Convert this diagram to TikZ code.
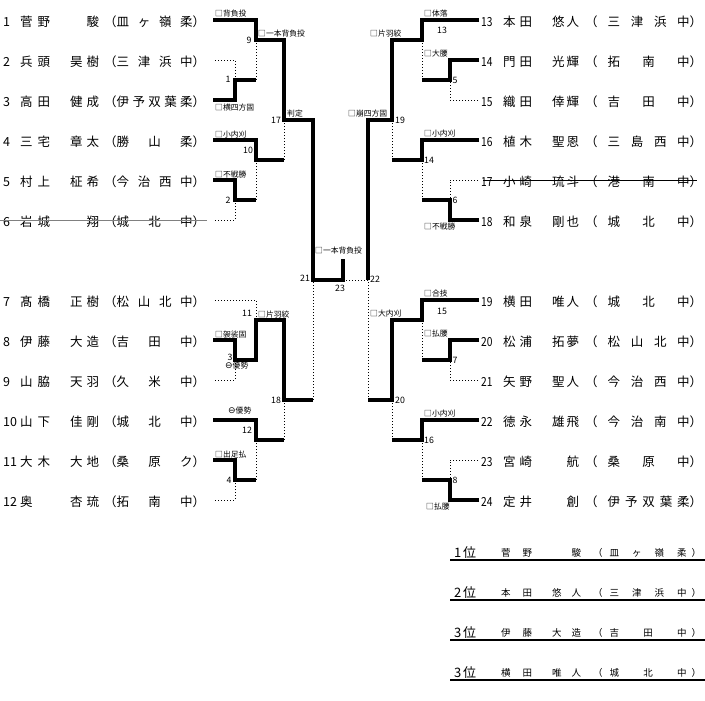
\documentclass[tikz,border=0pt]{standalone}
\usepackage{fontspec}
\usepackage{graphicx}
\setmainfont{Noto Sans CJK JP}
\newfontfamily\dvsans{DejaVu Sans}
\tikzset{
  win/.style={line width=3.2pt, line join=miter, line cap=butt},
  lose/.style={line width=0.9pt, dash pattern=on 1.3pt off 1.7pt},
  prow/.style={inner sep=0pt, anchor=base west, font=\fontsize{12.5}{12.5}\selectfont},
  brow/.style={inner sep=0pt, anchor=base west, font=\fontsize{9.5}{9.5}\selectfont},
  rankt/.style={inner sep=0pt, anchor=base west, font=\fontsize{13}{13}\selectfont},
  tech/.style={inner sep=0pt, anchor=west, font=\fontsize{7.8}{7.8}\selectfont},
  mnum/.style={inner sep=0pt, font=\fontsize{8.8}{8.8}\selectfont},
  strike/.style={line width=1pt},
  rule/.style={line width=1.2pt}
}
\newcommand\Lrow[6]{\node[prow] (#1) at (3,#2+6.3) {\makebox[17pt][l]{#3}\makebox[30pt][s]{#4}\hspace{20pt}\makebox[29pt][s]{#5}\hspace{5pt}（\makebox[76pt][s]{#6}）};}
\newcommand\Rrow[6]{\node[prow] (#1) at (481,#2+6.3) {\makebox[22pt][l]{\scalebox{.82}[1]{#3}}\makebox[29pt][s]{#4}\hspace{20pt}\makebox[27pt][s]{#5}\hspace{6pt}（\hspace{10pt}\makebox[82pt][s]{#6}）};}
\newcommand\Brow[6]{\node[rankt] (#1r) at (454,#2-3) {\makebox[9pt][l]{#3}位};
  \node[brow] (#1) at (501,#2-4) {\makebox[31pt][s]{#4}\hspace{20pt}\makebox[29pt][s]{#5}\hspace{12pt}（\hspace{7pt}\makebox[77pt][s]{#6}\hspace{5pt}）};
  \coordinate (#1a) at (450,#2); \coordinate (#1b) at (705,#2);
  \draw[rule] (#1a) -- (#1b);}
\begin{document}
\begin{tikzpicture}[x=1pt,y=-1pt]
\useasboundingbox (0,0) rectangle (705,701);
% ---------- player rows ----------
\Lrow{p1}{20}{1}{菅\hfill 野}{\hfill 駿}{皿\hfill ヶ\hfill 嶺\hfill 柔}
\Lrow{p2}{60}{2}{兵\hfill 頭}{昊\hfill 樹}{三\hfill 津\hfill 浜\hfill 中}
\Lrow{p3}{100}{3}{高\hfill 田}{健\hfill 成}{伊\hfill 予\hfill 双\hfill 葉\hfill 柔}
\Lrow{p4}{140}{4}{三\hfill 宅}{章\hfill 太}{勝\hfill 山\hfill 柔}
\Lrow{p5}{180}{5}{村\hfill 上}{柾\hfill 希}{今\hfill 治\hfill 西\hfill 中}
\Lrow{p6}{220}{6}{岩\hfill 城}{\hfill 翔}{城\hfill 北\hfill 中}
\Lrow{p7}{300}{7}{髙\hfill 橋}{正\hfill 樹}{松\hfill 山\hfill 北\hfill 中}
\Lrow{p8}{340}{8}{伊\hfill 藤}{大\hfill 造}{吉\hfill 田\hfill 中}
\Lrow{p9}{380}{9}{山\hfill 脇}{天\hfill 羽}{久\hfill 米\hfill 中}
\Lrow{p10}{420}{10}{山\hfill 下}{佳\hfill 剛}{城\hfill 北\hfill 中}
\Lrow{p11}{460}{11}{大\hfill 木}{大\hfill 地}{桑\hfill 原\hfill ク}
\Lrow{p12}{500}{12}{奥\hfill}{杏\hfill 琉}{拓\hfill 南\hfill 中}
\Rrow{p13}{20}{13}{本\hfill 田}{悠\hfill 人}{三\hfill 津\hfill 浜\hfill 中}
\Rrow{p14}{60}{14}{門\hfill 田}{光\hfill 輝}{拓\hfill 南\hfill 中}
\Rrow{p15}{100}{15}{織\hfill 田}{倖\hfill 輝}{吉\hfill 田\hfill 中}
\Rrow{p16}{140}{16}{植\hfill 木}{聖\hfill 恩}{三\hfill 島\hfill 西\hfill 中}
\Rrow{p17}{180}{17}{小\hfill 崎}{琉\hfill 斗}{港\hfill 南\hfill 中}
\Rrow{p18}{220}{18}{和\hfill 泉}{剛\hfill 也}{城\hfill 北\hfill 中}
\Rrow{p19}{300}{19}{横\hfill 田}{唯\hfill 人}{城\hfill 北\hfill 中}
\Rrow{p20}{340}{20}{松\hfill 浦}{拓\hfill 夢}{松\hfill 山\hfill 北\hfill 中}
\Rrow{p21}{380}{21}{矢\hfill 野}{聖\hfill 人}{今\hfill 治\hfill 西\hfill 中}
\Rrow{p22}{420}{22}{徳\hfill 永}{雄\hfill 飛}{今\hfill 治\hfill 南\hfill 中}
\Rrow{p23}{460}{23}{宮\hfill 崎}{\hfill 航}{桑\hfill 原\hfill 中}
\Rrow{p24}{500}{24}{定\hfill 井}{\hfill 創}{伊\hfill 予\hfill 双\hfill 葉\hfill 柔}
% strike-outs (withdrawn)
\coordinate (s6a) at (0,220); \coordinate (s6b) at (207,220);
\draw[strike, gray] (s6a) -- (s6b);
\coordinate (s17a) at (483,180); \coordinate (s17b) at (697,180);
\draw[strike] (s17a) -- (s17b);
% ---------- line starts ----------
\foreach \n/\y in {1/20,3/100,4/140,5/180,8/340,10/420,11/460} {\coordinate (a\n) at (213,\y);}
\foreach \n/\y in {2/60,6/220,7/300,9/380,12/500} {\coordinate (b\n) at (215,\y);}
\foreach \n/\y in {13/20,14/60,16/140,18/220,19/300,20/340,22/420,24/500} {\coordinate (a\n) at (479,\y);}
\foreach \n/\y in {15/100,17/180,21/380,23/460} {\coordinate (b\n) at (478,\y);}
% ---------- match junctions ----------
\coordinate (m1) at (235,80);   \coordinate (m2) at (235,200);
\coordinate (m3) at (235,360);  \coordinate (m4) at (235,480);
\coordinate (m9) at (256,40);   \coordinate (m10) at (256,160);
\coordinate (m11) at (256,320); \coordinate (m12) at (256,440);
\coordinate (m17) at (284,120); \coordinate (m18) at (284,400);
\coordinate (m21) at (313,280); \coordinate (m23) at (343,280);
\coordinate (w23) at (343,259);
\coordinate (m5) at (450,80);   \coordinate (m6) at (450,200);
\coordinate (m7) at (450,360);  \coordinate (m8) at (450,480);
\coordinate (m13) at (422,40);  \coordinate (m14) at (422,160);
\coordinate (m15) at (422,320); \coordinate (m16) at (422,440);
\coordinate (m19) at (392,120); \coordinate (m20) at (392,400);
\coordinate (m22) at (368,280);
% ---------- left bracket ----------
\draw[win] (a1) -| (m9) -| (m17) -| (m21) -- (m23) -- (w23);
\draw[lose] (b2) -| (m1);
\draw[win] (a3) -| (m1) -- (m9 |- m1);
\draw[lose] (m9 |- m1) -- (m9);
\draw[win] (a4) -| (m10) -- (m17 |- m10);
\draw[lose] (m17 |- m10) -- (m17);
\draw[win] (a5) -| (m2) -- (m10 |- m2);
\draw[lose] (m10 |- m2) -- (m10);
\draw[lose] (b6) -| (m2);
\draw[lose] (b7) -| (m11);
\draw[win] (a8) -| (m3) -| (m11) -| (m18) -- (m21 |- m18);
\draw[lose] (m21 |- m18) -- (m21);
\draw[lose] (b9) -| (m3);
\draw[win] (a10) -| (m12) -- (m18 |- m12);
\draw[lose] (m18 |- m12) -- (m18);
\draw[win] (a11) -| (m4) -- (m12 |- m4);
\draw[lose] (m12 |- m4) -- (m12);
\draw[lose] (b12) -| (m4);
% ---------- final ----------
\draw[lose] (m23) -- (m22);
% ---------- right bracket ----------
\draw[win] (a13) -| (m13) -| (m19) -| (m22);
\draw[win] (a14) -| (m5) -- (m13 |- m5);
\draw[lose] (m13 |- m5) -- (m13);
\draw[lose] (b15) -| (m5);
\draw[win] (a16) -| (m14) -- (m19 |- m14);
\draw[lose] (m19 |- m14) -- (m19);
\draw[lose] (b17) -| (m6);
\draw[win] (a18) -| (m6) -- (m14 |- m6);
\draw[lose] (m14 |- m6) -- (m14);
\draw[win] (a19) -| (m15) -| (m20) -- (m22 |- m20);
\draw[lose] (m22 |- m20) -- (m22);
\draw[win] (a20) -| (m7) -- (m15 |- m7);
\draw[lose] (m15 |- m7) -- (m15);
\draw[lose] (b21) -| (m7);
\draw[win] (a22) -| (m16) -- (m20 |- m16);
\draw[lose] (m20 |- m16) -- (m20);
\draw[lose] (b23) -| (m8);
\draw[win] (a24) -| (m8) -- (m16 |- m8);
\draw[lose] (m16 |- m8) -- (m16);
% ---------- match numbers ----------
\node[mnum] (n9) at (249,40) {9};
\node[mnum] (n1) at (228,79) {1};
\node[mnum] (n17) at (276,120) {17};
\node[mnum] (n10) at (248,150) {10};
\node[mnum] (n2) at (228,200) {2};
\node[mnum] (n11) at (247,313) {11};
\node[mnum] (n3) at (230,357) {3};
\node[mnum] (n18) at (276,400) {18};
\node[mnum] (n12) at (247,430) {12};
\node[mnum] (n4) at (229,480) {4};
\node[mnum] (n21) at (305,278) {21};
\node[mnum] (n23) at (340,288) {23};
\node[mnum] (n22) at (375,279) {22};
\node[mnum] (n13) at (442,30) {13};
\node[mnum] (n5) at (455,80) {5};
\node[mnum] (n19) at (400,120) {19};
\node[mnum] (n14) at (429,160) {14};
\node[mnum] (n6) at (455,200) {6};
\node[mnum] (n15) at (442,311) {15};
\node[mnum] (n7) at (455,360) {7};
\node[mnum] (n20) at (400,400) {20};
\node[mnum] (n16) at (429,440) {16};
\node[mnum] (n8) at (455,480) {8};
% ---------- techniques ----------
\node[tech] (t1) at (215,14) {□背負投};
\node[tech] (t9) at (258,34) {□一本背負投};
\node[tech] (t1b) at (215,108) {□横四方固};
\node[tech] (t17) at (287,114) {判定};
\node[tech] (t10) at (215,135) {□小内刈};
\node[tech] (t2) at (215,175) {□不戦勝};
\node[tech] (t11) at (258,315) {□片羽絞};
\node[tech] (t3) at (215,335) {□袈裟固};
\node[tech] (t3b) at (225,366) {{\dvsans\fontsize{9}{9}\selectfont ⊖}優勢};
\node[tech] (t12) at (228,411) {{\dvsans\fontsize{9}{9}\selectfont ⊖}優勢};
\node[tech] (t4) at (215,455) {□出足払};
\node[tech] (t23) at (315,251) {□一本背負投};
\node[tech] (t13) at (424,14) {□体落};
\node[tech] (t13b) at (370,34) {□片羽絞};
\node[tech] (t19) at (348,114) {□崩四方固};
\node[tech] (t5) at (424,54) {□大腰};
\node[tech] (t14) at (424,134) {□小内刈};
\node[tech] (t6) at (424,227) {□不戦勝};
\node[tech] (t15) at (424,294) {□合技};
\node[tech] (t20) at (370,314) {□大内刈};
\node[tech] (t7) at (424,334) {□払腰};
\node[tech] (t16) at (424,414) {□小内刈};
\node[tech] (t8) at (426,507) {□払腰};
% ---------- results ----------
\Brow{r1}{560}{1}{菅\hfill 野}{\hfill 駿}{皿\hfill ヶ\hfill 嶺\hfill 柔}
\Brow{r2}{600}{2}{本\hfill 田}{悠\hfill 人}{三\hfill 津\hfill 浜\hfill 中}
\Brow{r3}{640}{3}{伊\hfill 藤}{大\hfill 造}{吉\hfill 田\hfill 中}
\Brow{r4}{680}{3}{横\hfill 田}{唯\hfill 人}{城\hfill 北\hfill 中}
\end{tikzpicture}
\end{document}
